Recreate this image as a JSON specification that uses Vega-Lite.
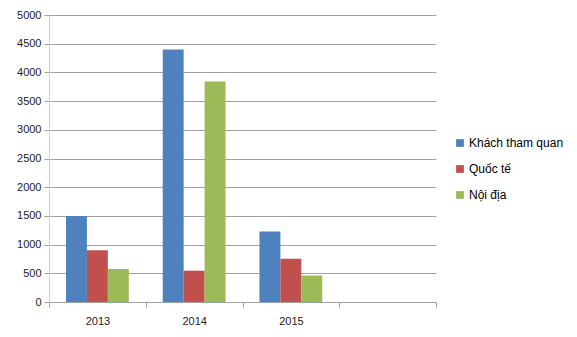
{
  "$schema": "https://vega.github.io/schema/vega-lite/v6.json",
  "width": 387,
  "height": 287,
  "autosize": {"type": "none"},
  "padding": {"left": 49, "top": 15, "right": 141, "bottom": 35},
  "background": "white",
  "config": {
    "view": {"stroke": null},
    "font": "Liberation Sans",
    "axis": {"labelFont": "Liberation Sans", "labelColor": "#222222"},
    "legend": {"labelFont": "Liberation Sans"}
  },
  "data": {
    "values": [
      {"year": "2013", "series": "Khách tham quan", "value": 1500},
      {"year": "2013", "series": "Quốc tế", "value": 900},
      {"year": "2013", "series": "Nội địa", "value": 575},
      {"year": "2014", "series": "Khách tham quan", "value": 4400},
      {"year": "2014", "series": "Quốc tế", "value": 545},
      {"year": "2014", "series": "Nội địa", "value": 3840},
      {"year": "2015", "series": "Khách tham quan", "value": 1230},
      {"year": "2015", "series": "Quốc tế", "value": 755},
      {"year": "2015", "series": "Nội địa", "value": 460}
    ]
  },
  "mark": {"type": "bar"},
  "encoding": {
    "x": {
      "field": "year",
      "type": "nominal",
      "scale": {"domain": ["2013", "2014", "2015", " "], "paddingInner": 0, "paddingOuter": 0},
      "axis": {
        "title": null,
        "labelAngle": 0,
        "labelFontSize": 11,
        "labelPadding": 8,
        "tickBand": "extent",
        "tickSize": 5,
        "tickColor": "#a0a0a0",
        "domainColor": "#a0a0a0",
        "grid": false
      }
    },
    "xOffset": {
      "field": "series",
      "type": "nominal",
      "scale": {"domain": ["Khách tham quan", "Quốc tế", "Nội địa"], "paddingInner": 0, "paddingOuter": 0.81}
    },
    "y": {
      "field": "value",
      "type": "quantitative",
      "scale": {"domain": [0, 5000], "nice": false},
      "axis": {
        "title": null,
        "format": "d",
        "values": [0, 500, 1000, 1500, 2000, 2500, 3000, 3500, 4000, 4500, 5000],
        "labelFontSize": 11,
        "labelPadding": 3,
        "tickSize": 5,
        "tickColor": "#a0a0a0",
        "domainColor": "#d0d0d0",
        "gridColor": "#a0a0a0",
        "grid": true
      }
    },
    "color": {
      "field": "series",
      "type": "nominal",
      "scale": {
        "domain": ["Khách tham quan", "Quốc tế", "Nội địa"],
        "range": ["#4F81BD", "#C0504D", "#9BBB59"]
      },
      "legend": {
        "title": null,
        "orient": "none",
        "legendX": 405,
        "legendY": 122,
        "symbolType": "square",
        "symbolSize": 60,
        "labelFontSize": 12,
        "rowPadding": 14,
        "labelOffset": 3
      }
    }
  }
}
